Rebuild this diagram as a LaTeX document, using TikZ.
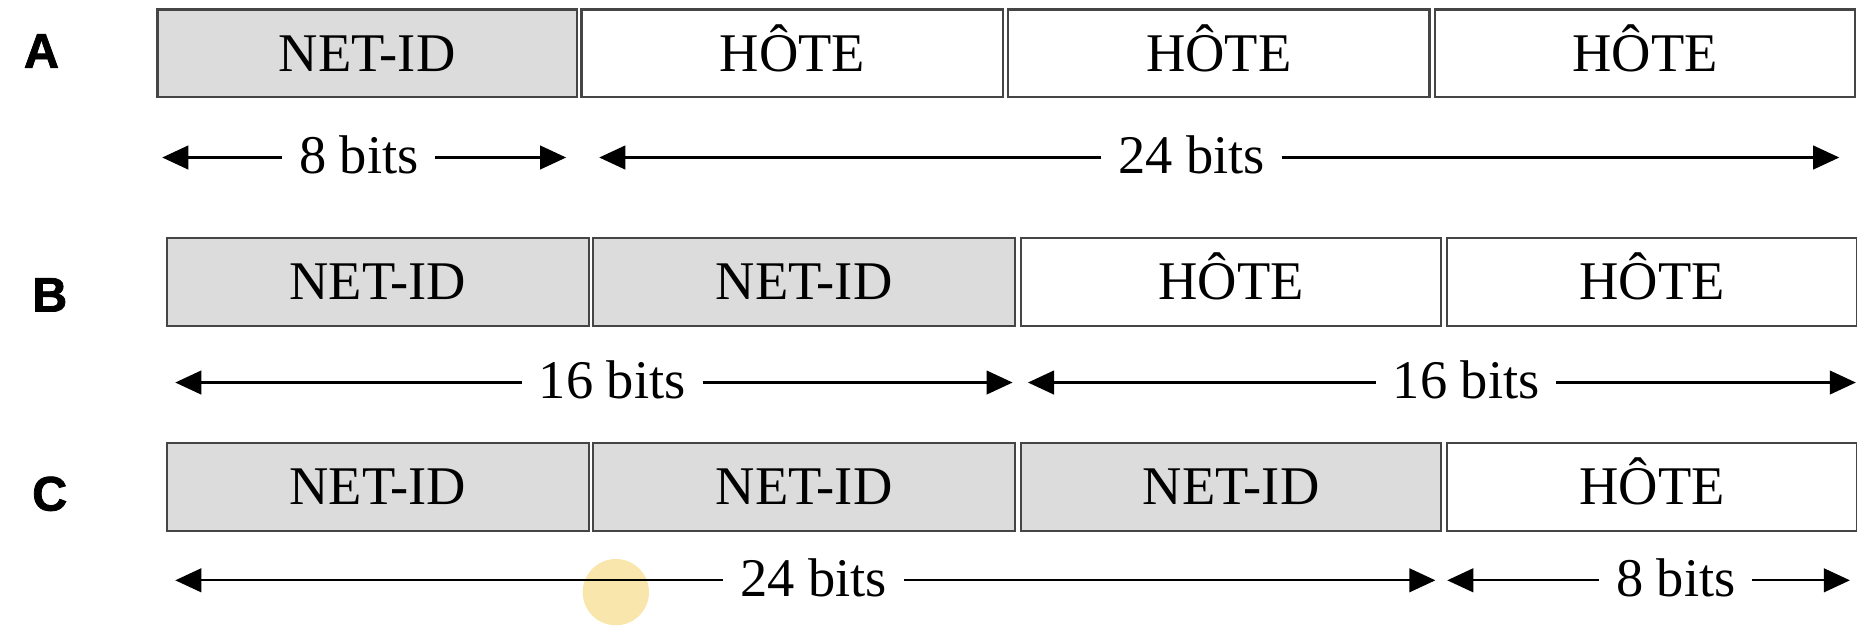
\documentclass[tikz,border=0pt]{standalone}
\usepackage{fontspec}
\setmainfont{Liberation Serif}
\newfontfamily\lblfont[FakeBold=1.6]{Liberation Sans Bold}
\usetikzlibrary{arrows.meta}
\definecolor{boxgray}{HTML}{DCDCDC}
\definecolor{edgegray}{HTML}{454545}
\definecolor{hilite}{HTML}{F7DC8A}
\tikzset{
  field/.style={draw=edgegray, line width=1.8pt, minimum height=74pt, inner sep=0pt,
    font=\fontsize{46}{50}\selectfont, text height=30pt, text depth=0pt},
  netfield/.style={field, fill=boxgray},
  hostfield/.style={field, fill=white},
  rowlbl/.style={font=\lblfont\fontsize{41}{45}\selectfont, inner sep=0pt},
  bitlbl/.style={font=\fontsize{46}{50}\selectfont, inner xsep=14pt, inner ysep=0pt,
    text height=31pt, text depth=0pt},
  dim/.style={line width=1.8pt, -{Triangle[length=22pt,width=20pt]}},
}
\begin{document}
\begin{tikzpicture}[x=1pt,y=-1pt]
\useasboundingbox (0,0) rectangle (1568,529);
% highlight artefact
\fill[hilite, opacity=0.7] (520,500) circle (28);
% Row A
\node[rowlbl] (la) at (35,43) {A};
\node[netfield, minimum width=354pt] (a1) at (310,45) {NET-ID};
\node[hostfield, minimum width=356pt] (a2) at (669,45) {HÔTE};
\node[hostfield, minimum width=356pt] (a3) at (1029,45) {HÔTE};
\node[hostfield, minimum width=354pt] (a4) at (1389,45) {HÔTE};
\coordinate (a8l) at (137,133); \coordinate (a8r) at (478,133);
\node[bitlbl] (a8) at (303,131) {8 bits};
\draw[dim] (a8.west|-a8l) -- (a8l); \draw[dim] (a8.east|-a8r) -- (a8r);
\coordinate (a24l) at (506,133); \coordinate (a24r) at (1553,133);
\node[bitlbl] (a24) at (1006,131) {24 bits};
\draw[dim] (a24.west|-a24l) -- (a24l); \draw[dim] (a24.east|-a24r) -- (a24r);
% Row B
\node[rowlbl] (lb) at (42,249) {B};
\node[netfield, minimum width=356pt] (b1) at (319,238) {NET-ID};
\node[netfield, minimum width=356pt] (b2) at (679,238) {NET-ID};
\node[hostfield, minimum width=355pt] (b3) at (1039.5,238) {HÔTE};
\node[hostfield, minimum width=346pt] (b4) at (1395,238) {HÔTE};
\coordinate (b16l) at (148,323); \coordinate (b16r) at (855,323);
\node[bitlbl] (b16) at (517,321) {16 bits};
\draw[dim] (b16.west|-b16l) -- (b16l); \draw[dim] (b16.east|-b16r) -- (b16r);
\coordinate (c16l) at (868,323); \coordinate (c16r) at (1567,323);
\node[bitlbl] (b16b) at (1238,321) {16 bits};
\draw[dim] (b16b.west|-c16l) -- (c16l); \draw[dim] (b16b.east|-c16r) -- (c16r);
% Row C
\node[rowlbl] (lc) at (42,417) {C};
\node[netfield, minimum width=356pt] (c1) at (319,411) {NET-ID};
\node[netfield, minimum width=356pt] (c2) at (679,411) {NET-ID};
\node[netfield, minimum width=355pt] (c3) at (1039.5,411) {NET-ID};
\node[hostfield, minimum width=346pt] (c4) at (1395,411) {HÔTE};
\coordinate (c24l) at (148,490); \coordinate (c24r) at (1212,490);
\node[bitlbl] (c24) at (687,488) {24 bits};
\draw[dim] (c24.west|-c24l) -- (c24l); \draw[dim] (c24.east|-c24r) -- (c24r);
\coordinate (c8l) at (1222,490); \coordinate (c8r) at (1562,490);
\node[bitlbl] (c8) at (1415,488) {8 bits};
\draw[dim] (c8.west|-c8l) -- (c8l); \draw[dim] (c8.east|-c8r) -- (c8r);
\end{tikzpicture}
\end{document}
